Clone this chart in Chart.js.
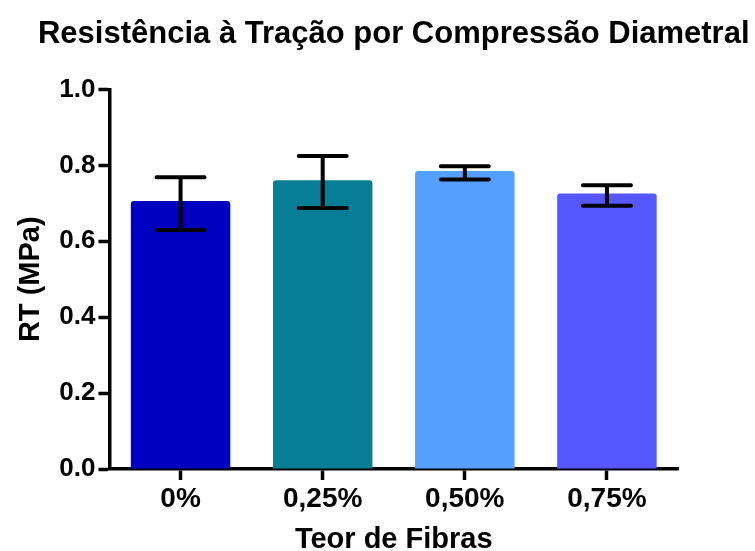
<!DOCTYPE html>
<html>
<head>
<meta charset="utf-8">
<script src="https://cdn.jsdelivr.net/npm/chart.js@4/dist/chart.umd.min.js"></script>
<style>
  html, body { margin: 0; padding: 0; background: #fff; }
  #wrap { width: 755px; height: 551px; position: relative; }
</style>
</head>
<body>
<div id="wrap"><canvas id="grafico"></canvas></div>
<script>
// ---------- dados ----------
const teores = ["0%", "0,25%", "0,50%", "0,75%"];
const rtMedia = [0.706, 0.761, 0.785, 0.726];
const rtMin = [0.630, 0.688, 0.763, 0.694];
const rtMax = [0.769, 0.825, 0.798, 0.748];
const coresBarras = ["#0000c0", "#087e96", "#55a0ff", "#5757ff"];
const ticksY = [0, 0.2, 0.4, 0.6, 0.8, 1.0];

const FONTE = "'Liberation Sans', Arial, sans-serif";
const TITULO = "Resistência à Tração por Compressão Diametral";

// título centralizado sobre a área do gráfico
const tituloPlugin = {
  id: "tituloArea",
  afterDraw(chart) {
    const { ctx, chartArea } = chart;
    ctx.save();
    ctx.font = "bold 31px " + FONTE;
    ctx.fillStyle = "#000";
    ctx.textAlign = "center";
    ctx.textBaseline = "alphabetic";
    ctx.fillText(TITULO, (chartArea.left + chartArea.right) / 2, 43);
    ctx.restore();
  }
};

// barras de erro (mín / máx)
const erroPlugin = {
  id: "barrasErro",
  afterDatasetsDraw(chart) {
    const { ctx } = chart;
    const y = chart.scales.y;
    const meta = chart.getDatasetMeta(0);
    ctx.save();
    ctx.strokeStyle = "#000";
    ctx.lineWidth = 4;
    ctx.lineCap = "round";
    meta.data.forEach((bar, i) => {
      const x = bar.x;
      const yTop = y.getPixelForValue(rtMax[i]);
      const yBot = y.getPixelForValue(rtMin[i]);
      ctx.beginPath();
      ctx.moveTo(x, yTop); ctx.lineTo(x, yBot);
      ctx.moveTo(x - 24, yTop); ctx.lineTo(x + 24, yTop);
      ctx.moveTo(x - 24, yBot); ctx.lineTo(x + 24, yBot);
      ctx.stroke();
    });
    ctx.restore();
  }
};

const ctx = document.getElementById("grafico").getContext("2d");
new Chart(ctx, {
  type: "bar",
  data: {
    labels: teores,
    datasets: [{
      data: rtMedia,
      backgroundColor: coresBarras,
      borderWidth: 0,
      borderRadius: { topLeft: 3, topRight: 3 },
      borderSkipped: "bottom",
      categoryPercentage: 0.7,
      barPercentage: 1.0
    }]
  },
  options: {
    responsive: true,
    maintainAspectRatio: false,
    animation: false,
    layout: { padding: { top: 89.5, right: 77, bottom: 0, left: 0 } },
    plugins: { legend: { display: false }, tooltip: { enabled: false }, title: { display: false } },
    scales: {
      x: {
        grid: { offset: false, drawOnChartArea: false, tickLength: 11, tickWidth: 3.5, tickColor: "#000" },
        border: { color: "#000", width: 3.5 },
        ticks: { color: "#000", padding: 2, font: { family: FONTE, size: 28, weight: "bold" } },
        title: { display: true, text: "Teor de Fibras", color: "#000", padding: { top: 0, bottom: -6 },
                 font: { family: FONTE, size: 29, weight: "bold" } },
        afterFit(s) { s.height = 82; }
      },
      y: {
        min: 0, max: 1.0,
        afterBuildTicks(s) { s.ticks = ticksY.map(v => ({ value: v })); },
        grid: { drawOnChartArea: false, tickLength: 11, tickWidth: 3.5, tickColor: "#000" },
        border: { color: "#000", width: 3.5 },
        ticks: { color: "#000", padding: 3, font: { family: FONTE, size: 26, weight: "bold" },
                 callback: v => v.toFixed(1) },
        title: { display: true, text: "RT (MPa)", color: "#000", padding: { top: 14, bottom: 0 },
                 font: { family: FONTE, size: 29, weight: "bold" } },
        afterFit(s) { s.width = 109.5; }
      }
    }
  },
  plugins: [tituloPlugin, erroPlugin]
});
</script>
</body>
</html>
